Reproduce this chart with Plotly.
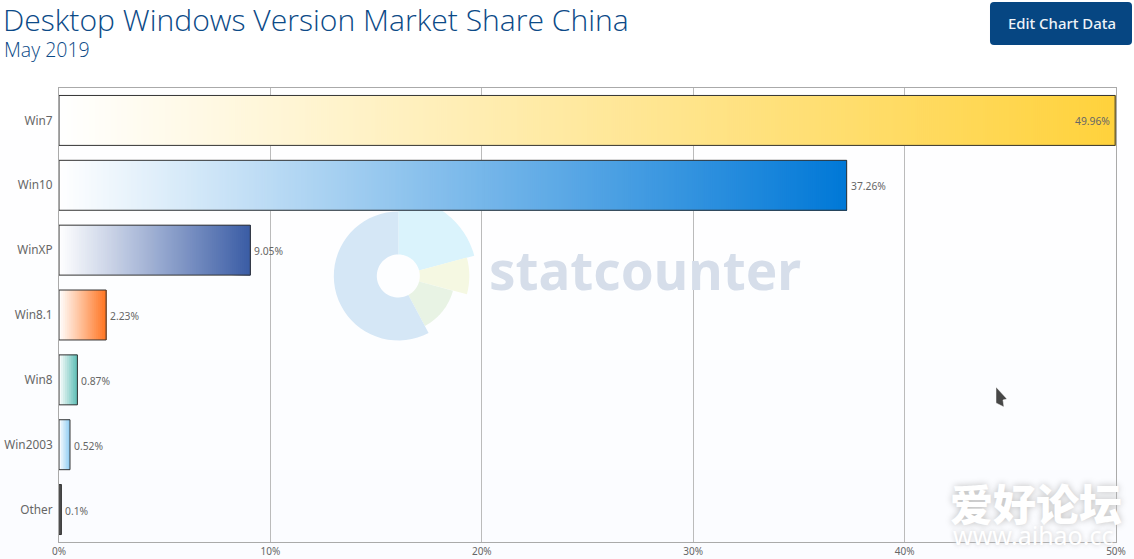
import numpy as np
import plotly.graph_objects as go

categories = ["Win7", "Win10", "WinXP", "Win8.1", "Win8", "Win2003", "Other"]
values = [49.96, 37.26, 9.05, 2.23, 0.87, 0.52, 0.1]
value_labels = ["49.96%", "37.26%", "9.05%", "2.23%", "0.87%", "0.52%", "0.1%"]
start_colors = ["#ffffff"] * 6 + ["#777777"]
end_colors = ["#ffd23c", "#0078d7", "#3a5ca5", "#ff7420", "#5cbdb5", "#8ccbf2", "#555555"]
x_ticks = [0, 10, 20, 30, 40, 50]
x_tick_labels = ["0%", "10%", "20%", "30%", "40%", "50%"]

W, H = 1134, 559
L, R, T, B = 59, 1116, 88, 542
GREY = "#666666"


def hex_rgb(c):
    return np.array([int(c[i:i + 2], 16) for i in (1, 3, 5)], float)


def px(x):
    return (x - L) / (R - L)


def py(y):
    return (B - y) / (B - T)


def sector(cx, cy, r0, r1, a0, a1):
    ang = np.radians(np.linspace(a0, a1, 40))
    outer = [(cx + r1 * np.sin(a), cy - r1 * np.cos(a)) for a in ang]
    inner = [(cx + r0 * np.sin(a), cy - r0 * np.cos(a)) for a in ang[::-1]]
    pts = outer + inner
    return "M" + " L".join(f"{px(x):.5f},{py(y):.5f}" for x, y in pts) + " Z"


fig = go.Figure()

# Each gradient step runs from its start to the bar's end, later steps painting over earlier ones
for cat, val, c0, c1 in zip(categories, values, start_colors, end_colors):
    n = max(4, int(round(val * 21.14 / 2)))
    edges = np.linspace(0, val, n + 1)[:-1]
    a, b = hex_rgb(c0), hex_rgb(c1)
    cols = []
    for t in (np.arange(n) + 0.5) / n:
        r, g, bl = a + (b - a) * t
        cols.append(f"rgb({r:.0f},{g:.0f},{bl:.0f})")
    fig.add_trace(go.Bar(
        y=[cat] * n, x=val - edges, base=edges, orientation="h", width=0.77,
        marker=dict(color=cols, line=dict(width=0)), hoverinfo="skip", showlegend=False,
    ))

fig.add_trace(go.Bar(
    y=categories, x=values, orientation="h", width=0.77,
    marker=dict(color="rgba(0,0,0,0)", line=dict(color="#333333", width=1)),
    showlegend=False,
))

shapes = []
# faint vertical page gradient
bands = ["#ffffff", "#fefeff", "#fdfeff", "#fcfdff", "#fbfcff"]
stops = [0, 130, 260, 360, 470, 559]
for i, col in enumerate(bands):
    shapes.append(dict(type="rect", xref="paper", yref="paper", layer="below",
                       x0=px(0), x1=px(W), y0=py(stops[i]), y1=py(stops[i + 1]),
                       fillcolor=col, line=dict(width=0)))
# logo
CX, CY = 398.3, 276
for r1, a0, a1, col in [
    (78.6, 0, 75, "#daf3fc"),
    (71, 75, 105, "#f5f8e2"),
    (56.6, 105, 152, "#e8f3e4"),
    (64.5, 152, 360, "#d5e7f6"),
]:
    shapes.append(dict(type="path", xref="paper", yref="paper", layer="below",
                       path=sector(CX, CY, 21.5, r1, a0, a1),
                       fillcolor=col, line=dict(width=0)))
# button
bx0, bx1, by0, by1, rr = 990, 1132, 2, 45, 4
def P(x, y):
    return f"{px(x):.5f},{py(y):.5f}"
shapes.append(dict(type="path", xref="paper", yref="paper", layer="above",
                   path=f"M{P(bx0 + rr, by0)} L{P(bx1 - rr, by0)} Q{P(bx1, by0)} {P(bx1, by0 + rr)} "
                        f"L{P(bx1, by1 - rr)} Q{P(bx1, by1)} {P(bx1 - rr, by1)} L{P(bx0 + rr, by1)} "
                        f"Q{P(bx0, by1)} {P(bx0, by1 - rr)} L{P(bx0, by0 + rr)} Q{P(bx0, by0)} {P(bx0 + rr, by0)} Z",
                   fillcolor="#064682", line=dict(width=0)))
# cursor
shapes.append(dict(type="path", xref="paper", yref="paper", layer="above",
                   path=f"M{P(996, 387)} L{P(1007, 399)} L{P(1003, 400)} L{P(1004, 407)} L{P(1000, 405)} L{P(996, 403)} Z",
                   fillcolor="#474747", line=dict(color="#ffffff", width=0.5)))

def note(text, x, y, size, color, family="Noto Sans", anchor="left", valign="middle", weight=None, shadow=None):
    font = dict(family=family, size=size, color=color)
    if weight:
        font["weight"] = weight
    if shadow:
        font["shadow"] = shadow
    return dict(text=text, xref="paper", yref="paper", x=px(x), y=py(y), xanchor=anchor,
                yanchor=valign, showarrow=False, font=font)

annotations = [
    note("Desktop Windows Version Market Share China", 1, 19, 30.1, "#0b4a87", family="Open Sans", weight=300),
    note("May 2019", 2, 49, 19.5, "#0b4a87", family="Open Sans", weight=300),
    note("Edit Chart Data", 1061.5, 23, 14.9, "#eef3f8", anchor="center", weight=500),
    note("statcounter", 487, 269, 53, "#d6deea", weight=700),
    note("爱好论坛", 948, 502, 43, "#ffffff", family="Noto Sans CJK SC", weight=900,
         shadow="0px 0px 7px #bdbdbd"),
    note("www.aihao.cc", 951, 535, 25, "#ffffff", weight=400, shadow="0px 0px 5px #c8c8c8"),
]

# value labels, placed from the data through the axes
for i, (cat, val, lab) in enumerate(zip(categories, values, value_labels)):
    inside = i == 0
    annotations.append(dict(
        text=lab, x=val, y=cat, xref="x", yref="y", showarrow=False,
        xanchor="right" if inside else "left", yanchor="middle",
        xshift=-3 if inside else 2, yshift=-1,
        font=dict(family="Noto Sans", size=10.3, color=GREY),
    ))

fig.update_layout(
    width=W, height=H, autosize=False,
    margin=dict(l=L, r=W - R, t=T, b=H - B, pad=0, autoexpand=False),
    paper_bgcolor="#ffffff", plot_bgcolor="rgba(0,0,0,0)",
    barmode="overlay", bargap=0.23,
    shapes=shapes, annotations=annotations,
    font=dict(family="Noto Sans", color=GREY),
    xaxis=dict(range=[0, 50], tickmode="array", tickvals=x_ticks, ticktext=x_tick_labels, automargin=False,
               showgrid=True, gridcolor="#bbbbbb",
               gridwidth=1, zeroline=False, showline=True, linecolor="#aaaaaa", linewidth=1, mirror=True,
               ticks="", tickfont=dict(family="Noto Sans", size=10, color=GREY)),
    yaxis=dict(categoryorder="array", categoryarray=categories, autorange="reversed", showgrid=False,
               automargin=False, zeroline=False, showline=True, linecolor="#aaaaaa", linewidth=1, mirror=True,
               ticks="", ticklabelstandoff=3, tickfont=dict(family="Noto Sans", size=11.8, color=GREY)),
    hovermode=False,
)

fig.write_html("out.html", config=dict(displayModeBar=False),
               post_script="document.body.style.margin='0';document.documentElement.style.overflow='hidden';")
